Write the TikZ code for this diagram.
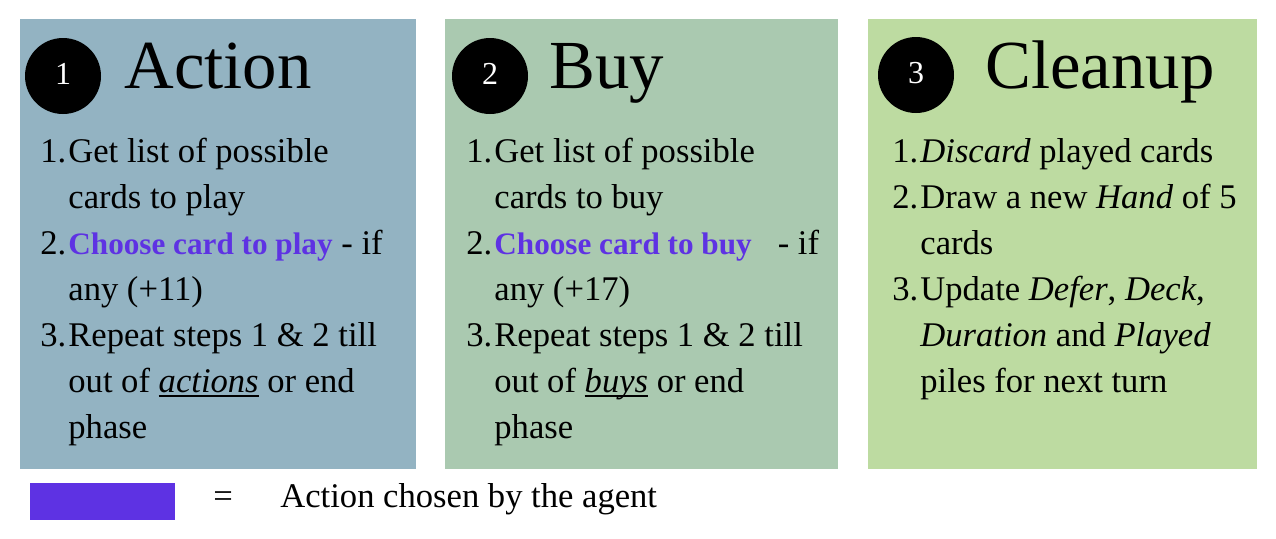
\documentclass[tikz,border=0pt]{standalone}
\usepackage{fontspec}
\setmainfont{Liberation Serif}
\usetikzlibrary{positioning}
\definecolor{actioncol}{HTML}{93B3C2}
\definecolor{buycol}{HTML}{AAC9B0}
\definecolor{cleancol}{HTML}{BDDBA1}
\definecolor{chosencol}{HTML}{5E32E3}
\newcommand{\itemno}[1]{\makebox[14pt][l]{#1}}
\newcommand{\cont}{\hspace*{14pt}}
\newcommand{\chosen}[1]{\textcolor{chosencol}{\fontsize{15.6}{23}\selectfont\textbf{#1}}}
\newcommand{\underit}[1]{\setbox0\hbox{\textit{#1}}\rlap{\rule[-2.4pt]{\wd0}{1.1pt}}\box0\relax}
\tikzset{
  panel/.style={rectangle, inner sep=0pt, anchor=north west, minimum height=225pt},
  phasenum/.style={circle, fill=black, text=white, inner sep=0pt, minimum size=38pt, font=\fontsize{16}{16}\selectfont},
  phasetitle/.style={anchor=base west, inner sep=0pt, font=\fontsize{34.4}{36}\selectfont},
  steplist/.style={anchor=north west, inner sep=0pt, align=left, font=\fontsize{17.3}{23}\selectfont},
  keytext/.style={anchor=base west, inner sep=0pt, font=\fontsize{17.3}{23}\selectfont}
}
\begin{document}
\begin{tikzpicture}[x=0.5pt, y=-0.5pt]
\useasboundingbox (0,0) rectangle (1276,538);

% phase panels
\node[panel, fill=actioncol, minimum width=198pt] (pAction) at (20,19) {};
\node[panel, fill=buycol, minimum width=196.5pt] (pBuy) at (445,19) {};
\node[panel, fill=cleancol, minimum width=194.5pt] (pClean) at (868,19) {};

% headings
\node[phasenum] (n1) at (63,76) {\raisebox{2pt}{1}};
\node[phasetitle] (t1) at (124,88) {Action};
\node[phasenum] (n2) at (490,76) {\raisebox{2pt}{2}};
\node[phasetitle] (t2) at (549,88) {Buy};
\node[phasenum] (n3) at (916,75) {\raisebox{2pt}{3}};
\node[phasetitle] (t3) at (985,88) {Cleanup};

% steps
\node[steplist] (s1) at (40,130) {\strut\itemno{1.}Get list of possible\\
  \cont cards to play\\
  \itemno{2.}\chosen{Choose card to play} - if\\
  \cont any (+11)\\
  \itemno{3.}Repeat steps 1 \& 2 till\\
  \cont out of \underit{actions} or end\\
  \cont phase};
\node[steplist] (s2) at (466,130) {\strut\itemno{1.}Get list of possible\\
  \cont cards to buy\\
  \itemno{2.}\chosen{Choose card to buy}\hspace{13pt}- if\\
  \cont any (+17)\\
  \itemno{3.}Repeat steps 1 \& 2 till\\
  \cont out of \underit{buys} or end\\
  \cont phase};
\node[steplist] (s3) at (892,130) {\strut\itemno{1.}\textit{Discard} played cards\\
  \itemno{2.}Draw a new \textit{Hand} of 5\\
  \cont cards\\
  \itemno{3.}Update \textit{Defer}, \textit{Deck},\\
  \cont \textit{Duration} and \textit{Played}\\
  \cont piles for next turn};

% legend
\node[panel, fill=chosencol, minimum width=72.5pt, minimum height=18.5pt] (key) at (30,483) {};
\node[keytext] (eq) at (213,507) {=};
\node[keytext] (keylabel) at (280,507) {Action chosen by the agent};

\end{tikzpicture}
\end{document}
